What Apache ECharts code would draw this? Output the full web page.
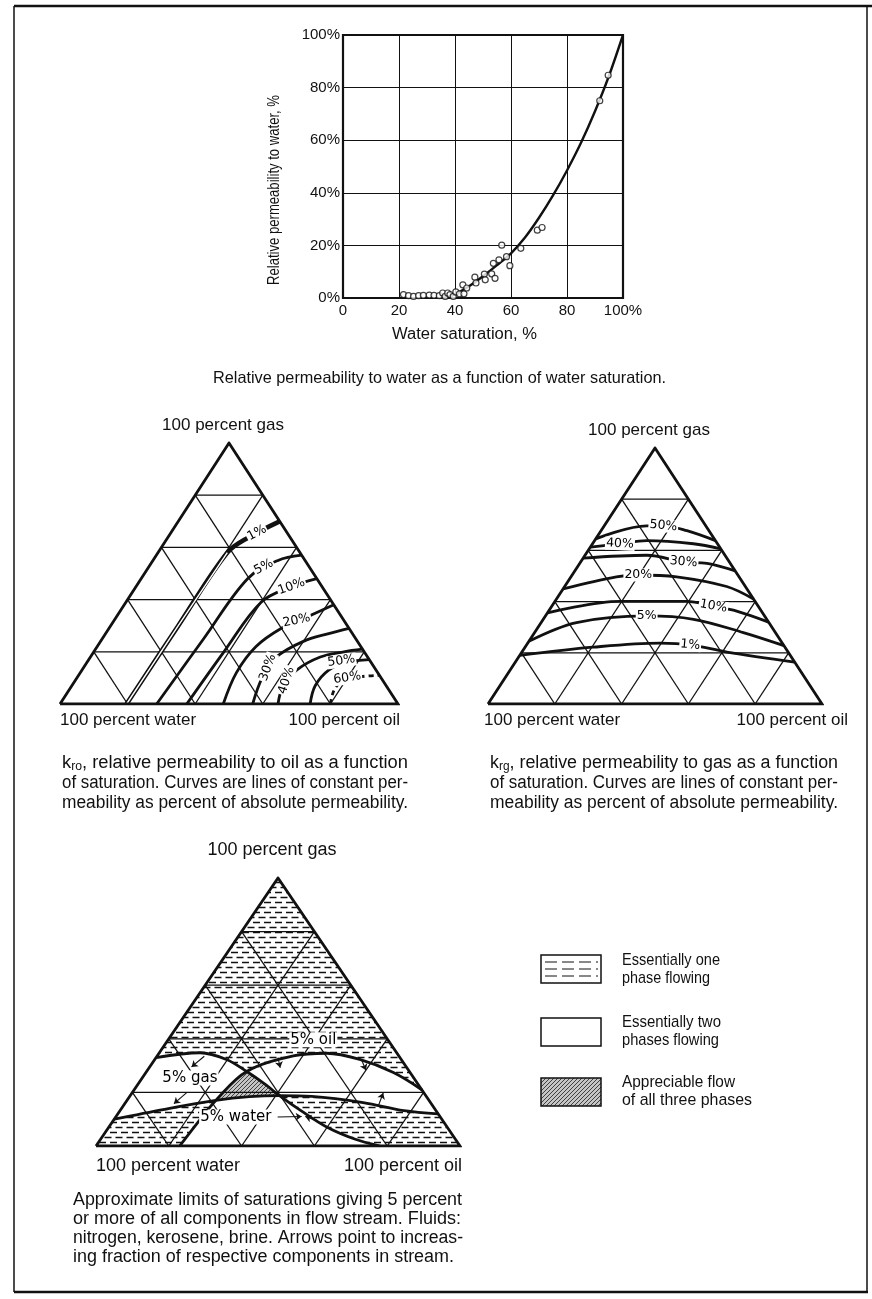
<!DOCTYPE html>
<html>
<head>
<meta charset="utf-8">
<script src="https://cdn.jsdelivr.net/npm/echarts/dist/echarts.min.js"></script>
<style>
  html, body { margin: 0; padding: 0; background: #fff; }
  #chart { width: 872px; height: 1299px; }
</style>
</head>
<body>
<div id="chart"></div>
<script>
// ---------------------------------------------------------------------------
// Data
// ---------------------------------------------------------------------------

// Relative permeability to water vs. water saturation (both in %)
const satTicks = [0, 20, 40, 60, 80, 100];
const krwTicks = [0, 20, 40, 60, 80, 100];
const krwSamples = [
  [21.6, 1.3], [23.4, 0.9], [25.2, 0.6], [27.0, 0.9], [28.7, 1.0], [30.8, 1.1],
  [32.5, 1.0], [34.4, 0.9], [35.6, 1.9], [36.5, 0.6], [37.4, 1.9], [38.2, 1.3],
  [39.4, 0.6], [40.3, 2.3], [41.6, 1.6], [42.8, 5.0], [43.2, 1.6], [44.2, 3.8],
  [47.1, 7.9], [47.5, 5.7], [50.5, 9.1], [50.8, 6.9], [53.1, 9.2], [53.7, 13.2],
  [54.3, 7.5], [55.7, 14.5], [56.7, 20.1], [58.4, 15.7], [59.6, 12.3], [63.5, 18.9],
  [69.4, 25.8], [71.1, 26.8], [91.7, 75.0], [94.7, 84.7]
];
const krwCurve = [
  [36, 0], [40, 1.5], [45, 4.5], [50, 8.3], [55, 12.5], [60, 17], [65, 23],
  [70, 30.5], [75, 39], [80, 48.5], [85, 59], [90, 71], [95, 84.5], [100, 100]
];

// Ternary points are [oil saturation, gas saturation]; water = 1 - oil - gas.
// k_ro: lines of constant oil relative permeability
const kroLevels = ['1%', '5%', '10%', '20%', '30%', '40%', '50%', '60%'];
const kroCurves = [
  [[0.197, 0], [0.2, 0.3], [0.205, 0.58], [0.24, 0.64], [0.3, 0.7]],
  [[0.286, 0], [0.3, 0.25], [0.315, 0.48], [0.37, 0.55], [0.43, 0.57]],
  [[0.375, 0], [0.385, 0.2], [0.4, 0.39], [0.46, 0.45], [0.52, 0.48]],
  [[0.483, 0], [0.462, 0.12], [0.47, 0.22], [0.51, 0.29], [0.56, 0.33], [0.62, 0.38]],
  [[0.57, 0], [0.548, 0.1], [0.55, 0.18], [0.6, 0.24], [0.66, 0.27], [0.71, 0.29]],
  [[0.645, 0], [0.625, 0.07], [0.635, 0.13], [0.68, 0.18], [0.74, 0.2], [0.79, 0.21]],
  [[0.74, 0], [0.72, 0.07], [0.73, 0.13], [0.77, 0.16], [0.83, 0.17]],
  [[0.8, 0], [0.785, 0.05], [0.79, 0.09], [0.84, 0.105], [0.89, 0.11]]
];

// k_rg: lines of constant gas relative permeability
const krgLevels = ['1%', '5%', '10%', '20%', '30%', '40%', '50%'];
const krgCurves = [
  [[0, 0.19], [0.204, 0.222], [0.396, 0.238], [0.49, 0.231], [0.614, 0.203], [0.836, 0.164]],
  [[0, 0.245], [0.106, 0.318], [0.303, 0.344], [0.45, 0.331], [0.625, 0.279], [0.772, 0.228]],
  [[0, 0.356], [0.194, 0.401], [0.394, 0.401], [0.484, 0.382], [0.563, 0.363], [0.68, 0.32]],
  [[0, 0.45], [0.136, 0.497], [0.198, 0.504], [0.316, 0.497], [0.485, 0.459], [0.59, 0.41]],
  [[0, 0.57], [0.185, 0.581], [0.308, 0.555], [0.381, 0.549], [0.48, 0.52]],
  [[0, 0.613], [0.082, 0.626], [0.156, 0.638], [0.302, 0.626], [0.394, 0.606]],
  [[0, 0.645], [0.127, 0.696], [0.177, 0.696], [0.257, 0.677], [0.362, 0.638]]
];

// 5 % limits in the flow stream (nitrogen, kerosene, brine)
const gas5 = [[0, 0.1], [0.12, 0.137], [0.244, 0.17], [0.33, 0.184], [0.41, 0.188],
              [0.5, 0.185], [0.653, 0.162], [0.78, 0.132], [0.88, 0.12]];
const oil5 = [[0.23, 0], [0.236, 0.09], [0.244, 0.17], [0.275, 0.278], [0.374, 0.336],
              [0.461, 0.346], [0.563, 0.323], [0.68, 0.274], [0.79, 0.21]];
const water5 = [[0, 0.33], [0.112, 0.348], [0.197, 0.323], [0.275, 0.278], [0.35, 0.23],
                [0.41, 0.188], [0.5, 0.13], [0.6, 0.07], [0.7, 0.025], [0.78, 0]];
const flowLabels = ['5% oil', '5% gas', '5% water'];
// arrows: [tail, head], pointing to increasing fraction
const flowArrows = [
  [[0.13, 0.335], [0.115, 0.295]],
  [[0.15, 0.2], [0.135, 0.158]],
  [[0.335, 0.33], [0.36, 0.292]],
  [[0.57, 0.32], [0.6, 0.283]],
  [[0.7, 0.153], [0.69, 0.198]],
  [[0.56, 0.095], [0.52, 0.11]],
  [[0.445, 0.108], [0.51, 0.11]]
];

const cornerNames = ['100 percent gas', '100 percent water', '100 percent oil'];

// ---------------------------------------------------------------------------
// Layout and style
// ---------------------------------------------------------------------------
const SANS = '"Liberation Sans", Arial, sans-serif';
const SMALL = '"DejaVu Sans", sans-serif';
const INK = '#111';

const TOP_GRID = { left: 343, top: 35, width: 280, height: 263 };
const TRI = [
  { left: 60, top: 443, width: 338, height: 261 },   // k_ro
  { left: 488, top: 448, width: 334, height: 256 },  // k_rg
  { left: 96, top: 878, width: 364, height: 268 }    // flow limits
];

const kroLabelSpots = [[0.255, 0.655, 28], [0.34, 0.525, 28], [0.46, 0.45, 20], [0.54, 0.32, 12],
                       [0.545, 0.14, 70], [0.625, 0.09, 72], [0.75, 0.165, 8], [0.8, 0.1, 8]];
const krgLabelSpots = [[0.49, 0.231, -5], [0.303, 0.344, 0], [0.484, 0.382, -10], [0.198, 0.504, 0],
                       [0.308, 0.555, -5], [0.082, 0.626, -3], [0.177, 0.696, -5]];
const flowLabelSpots = [[0.399, 0.396, 0], [0.131, 0.254, 0], [0.33, 0.108, 0]];

// ---------------------------------------------------------------------------
// Helpers
// ---------------------------------------------------------------------------
const toXY = p => [p[0] + p[1] / 2, p[1]];

const measureCtx = document.createElement('canvas').getContext('2d');
function textWidth(str, size, family) {
  measureCtx.font = size + 'px ' + family;
  return measureCtx.measureText(str).width;
}

function gridSegments(n) {
  const segs = [];
  for (let i = 1; i < n; i++) {
    const t = i / n;
    segs.push([[0, t], [1 - t, t]]);   // constant gas
    segs.push([[t, 0], [t, 1 - t]]);   // constant oil
    segs.push([[t, 0], [0, t]]);       // constant water
  }
  return segs;
}

function dashCanvas() {
  const c = document.createElement('canvas');
  c.width = 22; c.height = 10;
  const g = c.getContext('2d');
  g.strokeStyle = INK; g.lineWidth = 1.4;
  g.beginPath();
  g.moveTo(0, 2.5); g.lineTo(7, 2.5);
  g.moveTo(11, 2.5); g.lineTo(18, 2.5);
  g.moveTo(5.5, 7.5); g.lineTo(12.5, 7.5);
  g.moveTo(16.5, 7.5); g.lineTo(22, 7.5);
  g.moveTo(0, 7.5); g.lineTo(1.5, 7.5);
  g.stroke();
  return c;
}
function diagCanvas() {
  const c = document.createElement('canvas');
  c.width = 4; c.height = 4;
  const g = c.getContext('2d');
  g.fillStyle = '#c4c4c4'; g.fillRect(0, 0, 4, 4);
  g.strokeStyle = '#333'; g.lineWidth = 0.9;
  g.beginPath();
  g.moveTo(-1, 5); g.lineTo(5, -1);
  g.stroke();
  return c;
}
const dashFill = { image: dashCanvas(), repeat: 'repeat' };
const diagFill = { image: diagCanvas(), repeat: 'repeat' };

const series = [];

// ---- top: k_rw vs Sw ----
series.push({
  type: 'line', xAxisIndex: 0, yAxisIndex: 0, data: krwCurve, smooth: 0.3,
  symbol: 'none', lineStyle: { color: INK, width: 2.4 }, z: 3, silent: true
});
series.push({
  type: 'scatter', xAxisIndex: 0, yAxisIndex: 0, data: krwSamples,
  symbol: 'circle', symbolSize: 6,
  itemStyle: { color: '#fff', borderColor: INK, borderWidth: 1.2 }, z: 4, silent: true
});

// ---- ternary frames and grids ----
function addTriangle(k) {
  const ax = k + 1;
  series.push({
    type: 'custom', xAxisIndex: ax, yAxisIndex: ax, silent: true, z: 2,
    data: gridSegments(5).map(s => [...toXY(s[0]), ...toXY(s[1])]),
    renderItem: (params, api) => {
      const p1 = api.coord([api.value(0), api.value(1)]);
      const p2 = api.coord([api.value(2), api.value(3)]);
      return { type: 'line', shape: { x1: p1[0], y1: p1[1], x2: p2[0], y2: p2[1] },
               style: { stroke: INK, lineWidth: 1.3 } };
    }
  });
  series.push({
    type: 'line', xAxisIndex: ax, yAxisIndex: ax, silent: true, z: 6,
    data: [[0, 0], [1, 0], [0, 1], [0, 0]].map(toXY), symbol: 'none',
    lineStyle: { color: INK, width: 2.8, join: 'miter' }
  });
}
[0, 1, 2].forEach(addTriangle);

function addCurves(ax, curves, opts) {
  curves.forEach((c, i) => {
    const style = (opts && opts[i]) || {};
    series.push({
      type: 'line', xAxisIndex: ax, yAxisIndex: ax, silent: true, z: 4,
      data: c.map(toXY), smooth: 0.35, symbol: 'none',
      lineStyle: Object.assign({ color: INK, width: 2.8 }, style)
    });
  });
}
function addLabels(ax, names, spots, size) {
  series.push({
    type: 'custom', xAxisIndex: ax, yAxisIndex: ax, silent: true, z: 9,
    data: spots.map(s => toXY(s)),
    renderItem: (params, api) => {
      const p = api.coord([api.value(0), api.value(1)]);
      const s = spots[params.dataIndex];
      return {
        type: 'text', x: p[0], y: p[1], rotation: (s[2] || 0) * Math.PI / 180,
        style: {
          text: names[params.dataIndex], fill: '#000', fontFamily: SMALL, fontSize: size,
          align: 'center', verticalAlign: 'middle', backgroundColor: '#fff', padding: [0, 1]
        }
      };
    }
  });
}

// k_ro: 1 % drawn as a double line, 60 % dashed
series.push({
  type: 'line', xAxisIndex: 1, yAxisIndex: 1, silent: true, z: 5,
  data: kroCurves[0].slice(0, 3).map(toXY), symbol: 'none',
  lineStyle: { color: '#fff', width: 1.4 }
});
addCurves(1, kroCurves, [{ width: 4.6 }, null, null, null, null, null, null, { type: [5, 4] }]);
addLabels(1, kroLevels, kroLabelSpots, 12.5);

addCurves(2, krgCurves);
addLabels(2, krgLevels, krgLabelSpots, 12.5);

// ---- flow-limit regions ----
const regions = [
  { pts: [[0, 1], ...water5.slice(0, 4), ...oil5.slice(4)], fill: dashFill },
  { pts: [[0, 0], ...gas5.slice(0, 3), ...oil5.slice(0, 2).reverse()], fill: dashFill },
  { pts: [[1, 0], ...gas5.slice(4).reverse(), ...water5.slice(6)], fill: dashFill },
  { pts: [oil5[2], oil5[3], water5[4], water5[5], gas5[3]], fill: diagFill }
];
series.push({
  type: 'custom', xAxisIndex: 3, yAxisIndex: 3, silent: true, z: 1,
  data: regions.map(r => toXY(r.pts[0])),
  renderItem: (params, api) => {
    const r = regions[params.dataIndex];
    return { type: 'polygon', shape: { points: r.pts.map(p => api.coord(toXY(p))) },
             style: { fill: r.fill, stroke: null } };
  }
});
addCurves(3, [gas5, oil5, water5]);
series.push({
  type: 'lines', coordinateSystem: 'cartesian2d', xAxisIndex: 3, yAxisIndex: 3,
  silent: true, z: 7, symbol: ['none', 'arrow'], symbolSize: 6,
  lineStyle: { color: INK, width: 1.1, opacity: 1 },
  data: flowArrows.map(a => ({ coords: [toXY(a[0]), toXY(a[1])] }))
});
addLabels(3, flowLabels, flowLabelSpots, 15);

// ---------------------------------------------------------------------------
// Axes
// ---------------------------------------------------------------------------
const xAxes = [{
  type: 'value', gridIndex: 0, min: satTicks[0], max: satTicks[satTicks.length - 1],
  interval: satTicks[1] - satTicks[0],
  axisLine: { show: false }, axisTick: { show: false },
  splitLine: { lineStyle: { color: INK, width: 1 } },
  axisLabel: {
    margin: 5, color: INK, fontFamily: SANS, fontSize: 15,
    formatter: v => (v === 100 ? '100%' : String(v))
  }
}];
const yAxes = [{
  type: 'value', gridIndex: 0, min: krwTicks[0], max: krwTicks[krwTicks.length - 1],
  interval: krwTicks[1] - krwTicks[0],
  axisLine: { show: false }, axisTick: { show: false },
  splitLine: { lineStyle: { color: INK, width: 1 } },
  axisLabel: { margin: 3, color: INK, fontFamily: SANS, fontSize: 15, formatter: v => v + '%' }
}];
for (let i = 1; i <= 3; i++) {
  xAxes.push({ type: 'value', gridIndex: i, min: 0, max: 1, show: false });
  yAxes.push({ type: 'value', gridIndex: i, min: 0, max: 1, show: false });
}

// ---------------------------------------------------------------------------
// Text, legend and frame
// ---------------------------------------------------------------------------
// text squeezed or stretched horizontally to span a given width
function fitText(x, y, str, size, width, extra) {
  const w = textWidth(str, size, SANS);
  return Object.assign({
    type: 'text', x: x, y: y, scaleX: width / w, silent: true,
    style: { text: str, fontFamily: SANS, fontSize: size, fill: INK,
             align: 'left', verticalAlign: 'middle' }
  }, extra || {});
}
function text(x, y, str, size, align) {
  return {
    type: 'text', x: x, y: y, silent: true,
    style: { text: str, fontFamily: SANS, fontSize: size, fill: INK,
             align: align || 'left', verticalAlign: 'middle' }
  };
}
// k with subscript, followed by the rest of the first line
function caption(x, y, sub, lines, width) {
  const M = 18, S = 12;
  const rich = {
    m: { fontFamily: SANS, fontSize: M, lineHeight: 20, verticalAlign: 'middle', fill: INK },
    s: { fontFamily: SANS, fontSize: S, lineHeight: 12, verticalAlign: 'bottom', fill: INK }
  };
  return lines.map((ln, i) => {
    if (i > 0) return fitText(x, y + i * 20, ln, M, width);
    const w = textWidth('k', M, SANS) + textWidth(sub, S, SANS) + textWidth(ln, M, SANS);
    return { type: 'text', x: x, y: y, scaleX: width / w, silent: true,
             style: { text: '{m|k}{s|' + sub + '}{m|' + ln + '}', rich: rich,
                      align: 'left', verticalAlign: 'middle' } };
  });
}
function cornerLabels(k, dyTop, dyBase, size) {
  const t = TRI[k];
  const base = t.top + t.height;
  return [
    text(t.left + t.width / 2 - 6, t.top - dyTop, cornerNames[0], size, 'center'),
    text(t.left + (k === 1 ? -4 : 0), base + dyBase, cornerNames[1], size, 'left'),
    text(t.left + t.width + (k === 1 ? 26 : 2), base + dyBase, cornerNames[2], size, 'right')
  ];
}

const graphics = [
  // frame
  { type: 'line', shape: { x1: 14, y1: 6, x2: 872, y2: 6 }, style: { stroke: INK, lineWidth: 2.5 } },
  { type: 'line', shape: { x1: 14, y1: 1292, x2: 868, y2: 1292 }, style: { stroke: INK, lineWidth: 2.5 } },
  { type: 'line', shape: { x1: 14, y1: 6, x2: 14, y2: 1292 }, style: { stroke: INK, lineWidth: 1.5 } },
  { type: 'line', shape: { x1: 867, y1: 6, x2: 867, y2: 1292 }, style: { stroke: INK, lineWidth: 1.5 } },

  // top chart titles
  fitText(275, 285, 'Relative permeability to water, %', 16, 190, { rotation: Math.PI / 2 }),
  fitText(392, 335, 'Water saturation, %', 16, 145),
  fitText(213, 378, 'Relative permeability to water as a function of water saturation.', 16.5, 453),

  ...cornerLabels(0, 18, 16, 17),
  ...cornerLabels(1, 18, 16, 17),
  ...cornerLabels(2, 28, 20, 18),

  ...caption(62, 763, 'ro', [', relative permeability to oil as a function',
                               'of saturation. Curves are lines of constant per-',
                               'meability as percent of absolute permeability.'], 346),
  ...caption(490, 763, 'rg', [', relative permeability to gas as a function',
                                'of saturation. Curves are lines of constant per-',
                                'meability as percent of absolute permeability.'], 348),

  // legend
  { type: 'rect', shape: { x: 541, y: 955, width: 60, height: 28 },
    style: { fill: '#fff', stroke: INK, lineWidth: 1.5 } },
  ...[962, 969, 976].map(yy => ({ type: 'line', shape: { x1: 545, y1: yy, x2: 598, y2: yy },
    style: { stroke: INK, lineWidth: 1, lineDash: [12, 5] } })),
  { type: 'rect', shape: { x: 541, y: 1018, width: 60, height: 28 },
    style: { fill: '#fff', stroke: INK, lineWidth: 1.5 } },
  { type: 'rect', shape: { x: 541, y: 1078, width: 60, height: 28 },
    style: { fill: diagFill, stroke: INK, lineWidth: 1.5 } },
  fitText(622, 960, 'Essentially one', 17, 98), fitText(622, 978, 'phase flowing', 17, 88),
  fitText(622, 1022, 'Essentially two', 17, 99), fitText(622, 1040, 'phases flowing', 17, 97),
  fitText(622, 1082, 'Appreciable flow', 17, 113), fitText(622, 1100, 'of all three phases', 17, 130),

  fitText(73, 1200, 'Approximate limits of saturations giving 5 percent', 18, 389),
  fitText(73, 1219, 'or more of all components in flow stream. Fluids:', 18, 388),
  fitText(73, 1238, 'nitrogen, kerosene, brine. Arrows point to increas-', 18, 390),
  fitText(73, 1257, 'ing fraction of respective components in stream.', 18, 381)
];

// ---------------------------------------------------------------------------
const chart = echarts.init(document.getElementById('chart'), null, { renderer: 'canvas' });
chart.setOption({
  animation: false,
  backgroundColor: '#fff',
  grid: [
    Object.assign({ show: true, borderColor: INK, borderWidth: 2.2, backgroundColor: 'transparent' }, TOP_GRID),
    ...TRI.map(t => Object.assign({ show: false }, t))
  ],
  xAxis: xAxes,
  yAxis: yAxes,
  series: series,
  graphic: graphics
});
</script>
</body>
</html>
